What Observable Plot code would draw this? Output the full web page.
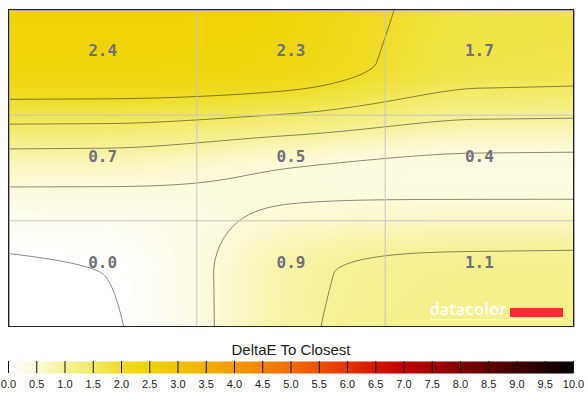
<!DOCTYPE html>
<html>
<head>
<meta charset="utf-8">
<script src="https://cdn.jsdelivr.net/npm/d3@7"></script>
<script src="https://cdn.jsdelivr.net/npm/@observablehq/plot@0.6"></script>
<style>
  html, body { margin: 0; padding: 0; background: white; }
  #wrap { position: relative; width: 588px; height: 397px; overflow: hidden; }
  #main { position: absolute; left: 0; top: 0; }
  #title { position: absolute; left: 0; width: 582px; top: 342px; text-align: center;
           font: 15px/15px "Liberation Sans", Arial, sans-serif; color: #222; }
  #bar { position: absolute; left: 0; top: 355px; }
  svg { display: block; }
</style>
</head>
<body>
<div id="wrap">
  <div id="main"></div>
  <div id="title">DeltaE To Closest</div>
  <div id="bar"></div>
</div>
<script>
// ---- data (3x3 uniformity grid, rows top to bottom) ----
const row1 = [2.4, 2.3, 1.7];
const row2 = [0.7, 0.5, 0.4];
const row3 = [0.0, 0.9, 1.1];
const legendTicks = [0.0, 0.5, 1.0, 1.5, 2.0, 2.5, 3.0, 3.5, 4.0, 4.5, 5.0,
                     5.5, 6.0, 6.5, 7.0, 7.5, 8.0, 8.5, 9.0, 9.5, 10.0];
const stopColors = ["#ffffff", "#fcfadc", "#f6f29a", "#f1ea60", "#f0dc28", "#f0d300",
                    "#f0c300", "#f0b000", "#f09c00", "#f08600", "#f06e08",
                    "#ee5200", "#e43400", "#d41400", "#c00000", "#a40000",
                    "#800000", "#600000", "#420000", "#220000", "#000000"];
const titleText = "DeltaE To Closest";

const rows = [row1, row2, row3];
const cells = rows.flatMap((r, i) => r.map((v, j) => ({col: j, row: i, value: v})));

// smooth surface through the 9 measured values (cubic Hermite, tensor product)
const K = 0.1;
function hermite1D(v, u) {
  const m = [K * (v[1] - v[0]), (v[2] - v[0]) / 2, K * (v[2] - v[1])];
  if (u <= 0) return v[0] + m[0] * u;
  if (u >= 2) return v[2] + m[2] * (u - 2);
  const i = u < 1 ? 0 : 1, s = u - i, s2 = s * s, s3 = s2 * s;
  return (2*s3 - 3*s2 + 1) * v[i] + (s3 - 2*s2 + s) * m[i]
       + (-2*s3 + 3*s2) * v[i + 1] + (s3 - s2) * m[i + 1];
}
function field(x, y) {
  const u = x - 0.5, t = y - 0.5;
  const g = rows.map(r => hermite1D(r, u));
  return hermite1D(g, t);
}

const colorScale = {type: "linear", domain: legendTicks, range: stopColors, clamp: true};

// datacolor logo, anchored to the lower-right corner of the frame
function logo(index, scales, values, dims) {
  const right = dims.width - dims.marginRight;
  const bottom = dims.height - dims.marginBottom;
  const g = d3.create("svg:g");
  g.append("text").attr("x", right - 143).attr("y", bottom - 11)
    .attr("text-anchor", "start")
    .attr("fill", "white").attr("font-family", "Lato, 'Open Sans', sans-serif")
    .attr("font-weight", "bold").attr("font-size", 17).attr("letter-spacing", 0.6)
    .text("datacolor");
  g.append("rect").attr("x", right - 63).attr("y", bottom - 18)
    .attr("width", 53).attr("height", 9).attr("fill", "#f03035");
  g.append("line").attr("x1", right - 143).attr("x2", right - 10)
    .attr("y1", bottom - 6.5).attr("y2", bottom - 6.5)
    .attr("stroke", "white").attr("stroke-width", 1);
  return g.node();
}

const main = Plot.plot({
  width: 588, height: 327,
  marginLeft: 8, marginRight: 15, marginTop: 9, marginBottom: 1,
  x: {domain: [0, 3], axis: null},
  y: {domain: [0, 3], reverse: true, axis: null},
  color: colorScale,
  marks: [
    Plot.raster({x1: 0, x2: 3, y1: 0, y2: 3, fill: field, pixelSize: 1}),
    Plot.contour({x1: 0, x2: 3, y1: 0, y2: 3, value: field, thresholds: legendTicks,
                  pixelSize: 1, fill: "none", stroke: "black", strokeOpacity: 0.45, strokeWidth: 1}),
    Plot.ruleX([1, 2], {stroke: "#c4c4c4", strokeWidth: 1}),
    Plot.ruleY([1, 2], {stroke: "#c4c4c4", strokeWidth: 1}),
    Plot.text(cells, {
      x: d => d.col + 0.5, y: d => d.row + 0.5, text: d => d.value.toFixed(1),
      dy: -11, fontFamily: "'DejaVu Sans Mono', monospace", fontSize: 16,
      fontWeight: "bold", fill: "#70707a"
    }),
    logo,
    Plot.frame({stroke: "#aaa", dx: 1, dy: 1}),
    Plot.frame({stroke: "#222"})
  ]
});
document.getElementById("main").append(main);

const bar = Plot.plot({
  width: 588, height: 42,
  marginLeft: 8, marginRight: 15, marginTop: 6, marginBottom: 24,
  x: {domain: [0, 10], axis: null},
  y: {domain: [0, 1], axis: null},
  color: colorScale,
  marks: [
    Plot.raster({x1: 0, x2: 10, y1: 0, y2: 1, fill: (x, y) => x, pixelSize: 1}),
    Plot.ruleX(legendTicks, {stroke: "#111", strokeWidth: 1}),
    Plot.text(legendTicks, {
      x: d => d, frameAnchor: "bottom", lineAnchor: "middle", dy: 11,
      text: d => d.toFixed(1), fontSize: 11,
      fontFamily: "'Liberation Sans Narrow', 'Arial Narrow', 'Liberation Sans', sans-serif",
      fill: "#222"
    })
  ]
});
document.getElementById("bar").append(bar);
document.getElementById("title").textContent = titleText;
</script>
</body>
</html>
